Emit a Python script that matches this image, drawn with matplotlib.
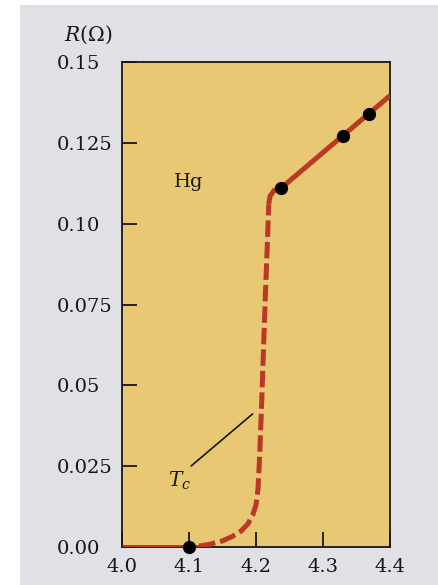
import matplotlib; matplotlib.use('Agg')
import matplotlib.pyplot as plt
from matplotlib.patches import Rectangle

# data (T in K, R in ohm)
flat_T = [4.00, 4.115]
flat_R = [0.0, 0.0]
trans_T = [4.115, 4.13, 4.15, 4.165, 4.178, 4.188, 4.195, 4.200, 4.203, 4.205,
           4.208, 4.211, 4.214, 4.217, 4.219]
trans_R = [0.0003, 0.0008, 0.0019, 0.0033, 0.005, 0.0072, 0.0098, 0.013, 0.018, 0.026,
           0.042, 0.060, 0.078, 0.094, 0.106]
norm_T = [4.219, 4.221, 4.227, 4.238, 4.40]
norm_R = [0.106, 0.1085, 0.1103, 0.1111, 0.1396]
pts_T = [4.10, 4.238, 4.330, 4.368]
pts_R = [0.0, 0.1111, 0.1272, 0.134]
xticks = [4.0, 4.1, 4.2, 4.3, 4.4]
yticks = [0.0, 0.025, 0.05, 0.075, 0.10, 0.125, 0.15]
ylabels = ['0.00', '0.025', '0.05', '0.075', '0.10', '0.125', '0.15']

red = '#bb3827'
ink = '#161616'
W, H = 439, 585
fig = plt.figure(figsize=(W/100, H/100), dpi=100)
fig.patch.set_facecolor('white')
fig.patches.append(Rectangle((20/W, 0), 1, 1-5/H, transform=fig.transFigure,
                             facecolor='#e1e1e5', edgecolor='none', zorder=-1))

ax = fig.add_axes([122/W, 1-547/H, (390-122)/W, (547-62)/H])
ax.set_facecolor('#e8c872')
for s in ax.spines.values():
    s.set_color(ink); s.set_linewidth(1.3)

ax.plot(flat_T, flat_R, color=red, lw=3.6, solid_capstyle='butt', zorder=3)
ax.plot(trans_T, trans_R, color=red, lw=3.6, dashes=(3.3, 1.0), zorder=3)
ax.plot(norm_T, norm_R, color=red, lw=3.6, solid_capstyle='butt', zorder=3)
ax.plot(pts_T, pts_R, 'o', color='black', ms=8.5, zorder=4, clip_on=False)

ax.set_xlim(4.0, 4.4); ax.set_ylim(0, 0.15)
ax.set_xticks(xticks); ax.set_xticklabels([f'{t:.1f}' for t in xticks])
ax.set_yticks(yticks); ax.set_yticklabels(ylabels)
ax.tick_params(direction='in', length=11, width=1.3, color=ink,
               labelsize=14, labelcolor=ink)
ax.tick_params(axis='x', pad=8)
ax.tick_params(axis='y', pad=47)
for lab in ax.get_xticklabels() + ax.get_yticklabels():
    lab.set_family('DejaVu Serif')
for lab in ax.get_yticklabels():
    lab.set_horizontalalignment('left')

ax.text(4.10, 0.113, 'Hg', family='DejaVu Serif', fontsize=14,
        ha='center', va='center', color=ink)
ax.annotate('', xy=(4.198, 0.0417), xytext=(4.1, 0.0245),
            arrowprops=dict(arrowstyle='-', color=ink, lw=1.2))
ax.text(4.086, 0.0205, '$T_c$', fontsize=14.5, ha='center', va='center',
        color=ink, math_fontfamily='dejavuserif')
fig.text(88/W, 1-35/H, r'$R(\Omega)$', fontsize=14.5, ha='center', va='center',
         color=ink, math_fontfamily='dejavuserif')

fig.savefig('out.png', dpi=100, facecolor=fig.get_facecolor())
